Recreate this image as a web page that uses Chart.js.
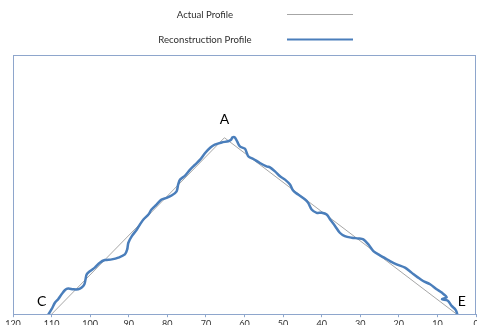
<!DOCTYPE html>
<html>
<head>
<meta charset="utf-8">
<script src="https://cdn.jsdelivr.net/npm/chart.js@4/dist/chart.umd.min.js"></script>
<style>
  html, body { margin: 0; padding: 0; background: #ffffff; overflow: hidden; }
  #wrap { width: 477px; height: 325px; overflow: hidden; }
  canvas { display: block; }
</style>
</head>
<body>
<div id="wrap"><canvas id="profile" width="484" height="332"></canvas></div>
<script>
// Distance along the section (reversed axis, 120 on the left)
const xTicks = [120, 110, 100, 90, 80, 70, 60, 50, 40, 30, 20, 10, 0];

// Actual profile: straight flanks C -> A -> E
const actualX = [110, 65.2, 5];
const actualY = [0, 17.7, 0];
const pointNames = ['C', 'A', 'E'];

// Reconstructed profile
const reconX = [111.1, 110.0, 109.1, 108.3, 107.4, 106.5, 105.7, 104.4, 103.1, 102.2,
  101.5, 101.2, 100.9, 100.0, 98.8, 97.5, 96.2, 94.4, 92.7, 91.0,
  90.4, 90.1, 89.2, 87.9, 87.1, 86.2, 84.9, 84.1, 82.8, 81.5,
  80.2, 78.9, 77.6, 77.2, 76.7, 75.4, 74.1, 72.8, 71.5, 70.2,
  68.9, 67.7, 65.9, 64.2, 63.5, 63.1, 62.5, 61.9, 61.2, 59.9,
  59.4, 59.0, 57.7, 56.0, 54.3, 53.4, 52.1, 50.8, 49.5, 48.2,
  47.4, 46.1, 44.3, 43.5, 42.6, 41.3, 40.0, 38.7, 37.8, 36.5,
  35.3, 34.0, 32.2, 30.5, 29.2, 27.9, 26.6, 24.9, 23.6, 22.3,
  20.6, 18.4, 16.7, 15.0, 13.7, 11.9, 10.2, 8.9, 7.6, 8.8,
  7.3, 6.3, 5.4, 5.0, 4.8];
const reconY = [-0.2, 0.5, 1.17, 1.5, 2.0, 2.43, 2.57, 2.5, 2.5, 2.67,
  3.0, 3.5, 4.0, 4.33, 4.67, 5.17, 5.43, 5.5, 5.67, 6.0,
  6.5, 7.17, 7.83, 8.5, 9.0, 9.5, 10.0, 10.5, 11.0, 11.5,
  11.67, 11.9, 12.33, 13.0, 13.5, 13.9, 14.5, 15.0, 15.5, 16.17,
  16.7, 17.0, 17.23, 17.35, 17.5, 17.73, 17.73, 17.33, 16.83, 16.6,
  16.17, 15.83, 15.57, 15.17, 14.83, 14.73, 14.33, 13.83, 13.5, 13.0,
  12.4, 12.0, 11.5, 11.17, 10.5, 10.17, 10.17, 10.0, 9.5, 8.83,
  8.17, 7.83, 7.67, 7.6, 7.5, 7.0, 6.33, 5.9, 5.62, 5.33,
  5.0, 4.67, 4.17, 3.67, 3.33, 3.0, 2.5, 2.17, 1.7, 1.5,
  1.35, 0.83, 0.5, 0.2, -0.1];

const toPoints = (xs, ys) => xs.map((x, i) => ({ x: x, y: ys[i] }));

const FONT = 'Lato, "Open Sans", "Liberation Sans", sans-serif';
const FRAME = '#8ea6cc';

// Legend drawn as stacked rows: label text, then a line sample
const stackedLegend = {
  id: 'stackedLegend',
  afterDraw(chart) {
    const ctx = chart.ctx;
    const rows = [14.5, 39.5];
    ctx.save();
    chart.data.datasets.forEach((ds, i) => {
      const y = rows[i];
      ctx.font = '9.6px ' + FONT;
      ctx.fillStyle = '#2e2e2e';
      ctx.textAlign = 'center';
      ctx.textBaseline = 'middle';
      ctx.fillText(ds.label, 205, y);
      ctx.strokeStyle = ds.borderColor;
      ctx.lineWidth = i === 0 ? 1 : 2.2;
      ctx.beginPath();
      ctx.moveTo(287, y);
      ctx.lineTo(353, y);
      ctx.stroke();
    });
    ctx.restore();
  }
};

// Frame around the plot area and the vertex letters
const frameAndNames = {
  id: 'frameAndNames',
  afterDatasetsDraw(chart) {
    const { ctx, chartArea: a, scales } = chart;
    ctx.save();
    ctx.strokeStyle = FRAME;
    ctx.lineWidth = 1;
    ctx.strokeRect(Math.round(a.left) + 0.5, Math.round(a.top) + 0.5,
                   Math.round(a.right - a.left) - 1, Math.round(a.bottom - a.top));
    const offsets = [[-10, -13], [0, -18], [5, -13]];
    ctx.font = '14px ' + FONT;
    ctx.fillStyle = '#000000';
    ctx.textAlign = 'center';
    ctx.textBaseline = 'middle';
    pointNames.forEach((n, i) => {
      const px = scales.x.getPixelForValue(actualX[i]) + offsets[i][0];
      const py = scales.y.getPixelForValue(actualY[i]) + offsets[i][1];
      ctx.fillText(n, px, py);
    });
    ctx.restore();
  }
};

new Chart(document.getElementById('profile'), {
  type: 'line',
  data: {
    datasets: [
      {
        label: 'Actual Profile',
        data: toPoints(actualX, actualY),
        borderColor: '#a6a6a6',
        borderWidth: 1,
        pointRadius: 0,
        tension: 0,
        order: 2
      },
      {
        label: 'Reconstruction Profile',
        data: toPoints(reconX, reconY),
        borderColor: '#4a7ebb',
        borderWidth: 2.5,
        pointRadius: 0,
        tension: 0.3,
        order: 1
      }
    ]
  },
  options: {
    responsive: false,
    animation: false,
    layout: { padding: { top: 55, left: 13, right: 8, bottom: 2 } },
    plugins: {
      legend: { display: false },
      tooltip: { enabled: false }
    },
    scales: {
      x: {
        type: 'linear',
        reverse: true,
        min: 0,
        max: 120,
        afterBuildTicks(scale) { scale.ticks = xTicks.map(v => ({ value: v })); },
        ticks: {
          font: { family: FONT, size: 9 },
          color: '#333333',
          padding: 1,
          maxRotation: 0,
          autoSkip: false
        },
        grid: { drawOnChartArea: false, drawTicks: true, tickLength: 3, color: FRAME },
        border: { display: true, color: FRAME }
      },
      y: {
        display: false,
        min: 0,
        max: 26
      }
    }
  },
  plugins: [stackedLegend, frameAndNames]
});
</script>
</body>
</html>
